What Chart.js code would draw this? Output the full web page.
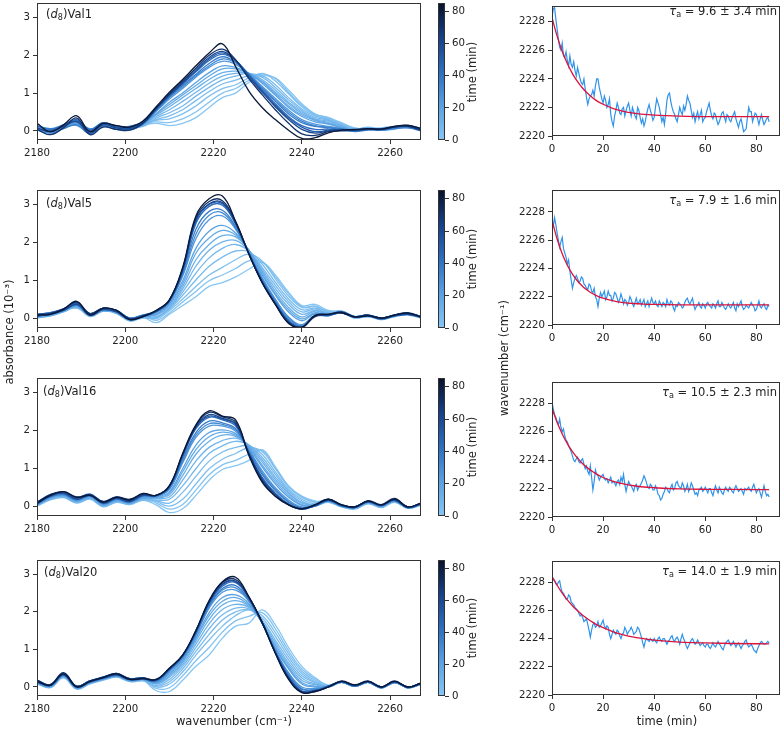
<!DOCTYPE html>
<html><head><meta charset="utf-8">
<script src="https://cdn.jsdelivr.net/npm/chart.js@4.4.0/dist/chart.umd.min.js"></script>
<style>
html,body{margin:0;padding:0;background:#fff;}
#wrap{position:relative;width:784px;height:729px;overflow:hidden;font-family:'DejaVu Sans',sans-serif;color:#222;}
#wrap canvas{position:absolute;}
.lbl{position:absolute;font-size:11.5px;white-space:nowrap;line-height:1;}
.c{transform:translate(-50%,-50%);}
.rot{transform:translate(-50%,-50%) rotate(-90deg);}
.lv{transform:translate(0,-50%);}
.rv{transform:translate(-100%,-50%);}
sub{font-size:70%;vertical-align:-0.25em;line-height:0;}
</style>
</head><body><div id="wrap"></div>
<script>
// ---------- DATA ----------
const SAMPLES = ['Val1','Val5','Val16','Val20'];
const TAU_TEXT = ['9.6 ± 3.4','7.9 ± 1.6','10.5 ± 2.3','14.0 ± 1.9'];
const WN = [2180,2183,2186,2189,2192,2195,2198,2201,2204,2207,2210,2213,2216,2219,2222,2225,2228,2231,2234,2237,2240,2243,2246,2249,2252,2255,2258,2261,2264,2267];
const SPEC_TIMES = [0,2,4,6,8,10,13,16,20,25,30,36,43,51,60,70,82];
const SPEC_X_TICKS = [2180,2200,2220,2240,2260];
const SPEC_Y_TICKS = [0,1,2,3];
const KIN_X_TICKS = [0,20,40,60,80];
const KIN_Y_TICKS = [2220,2222,2224,2226,2228];
const CB_TICKS = [0,20,40,60,80];

const SPEC_VAL1 = [
[0.06,0.00,0.10,0.18,-0.02,0.15,0.06,0.06,0.15,0.20,0.14,0.20,0.35,0.62,0.88,1.00,1.28,1.45,1.40,1.08,0.72,0.45,0.34,0.22,0.06,0.08,0.04,0.08,0.12,0.04],
[0.14,0.06,0.08,0.22,0.06,0.12,0.14,0.02,0.20,0.24,0.22,0.32,0.50,0.76,1.00,1.12,1.34,1.50,1.38,1.02,0.68,0.44,0.36,0.20,0.08,0.04,0.08,0.12,0.08,0.08],
[0.10,0.04,0.14,0.24,0.02,0.20,0.10,0.10,0.18,0.28,0.32,0.45,0.66,0.92,1.12,1.22,1.40,1.52,1.32,0.98,0.64,0.42,0.32,0.18,0.05,0.10,0.06,0.10,0.14,0.06],
[0.02,-0.02,0.16,0.14,-0.04,0.18,0.08,0.08,0.12,0.30,0.40,0.56,0.80,1.04,1.24,1.34,1.46,1.46,1.22,0.88,0.58,0.40,0.30,0.16,0.04,0.08,0.04,0.04,0.14,0.04],
[0.04,-0.04,0.08,0.16,-0.06,0.12,0.04,0.04,0.14,0.34,0.48,0.66,0.92,1.15,1.35,1.45,1.52,1.42,1.15,0.82,0.54,0.36,0.28,0.14,0.02,0.06,0.02,0.06,0.10,0.02],
[0.10,0.02,0.06,0.20,0.02,0.20,0.10,0.02,0.18,0.38,0.56,0.78,1.02,1.26,1.45,1.52,1.52,1.36,1.08,0.76,0.50,0.32,0.26,0.14,0.02,0.04,0.04,0.08,0.12,0.02],
[0.12,0.06,0.16,0.26,0.04,0.22,0.12,0.12,0.22,0.42,0.64,0.88,1.12,1.36,1.54,1.58,1.50,1.32,1.02,0.72,0.46,0.30,0.22,0.12,0.00,0.06,0.02,0.06,0.10,0.04],
[0.02,-0.04,0.14,0.16,0.00,0.14,0.06,0.10,0.16,0.44,0.70,0.95,1.20,1.45,1.64,1.64,1.52,1.30,0.98,0.66,0.42,0.28,0.20,0.10,0.04,0.08,0.02,0.06,0.14,0.06],
[0.06,-0.02,0.10,0.20,-0.02,0.16,0.08,0.06,0.20,0.46,0.76,1.00,1.28,1.54,1.72,1.68,1.52,1.26,0.94,0.62,0.38,0.24,0.18,0.08,0.02,0.06,0.04,0.08,0.12,0.04],
[0.10,0.02,0.14,0.24,0.00,0.18,0.10,0.08,0.22,0.52,0.84,1.12,1.42,1.68,1.84,1.76,1.50,1.18,0.86,0.55,0.30,0.18,0.12,0.06,0.00,0.04,0.03,0.08,0.10,0.02],
[0.12,0.06,0.10,0.28,0.04,0.14,0.14,0.06,0.20,0.54,0.88,1.16,1.46,1.72,1.90,1.80,1.50,1.14,0.82,0.50,0.26,0.14,0.10,0.06,0.02,0.06,0.02,0.10,0.10,0.04],
[0.02,-0.06,0.06,0.16,-0.08,0.12,0.04,0.04,0.18,0.54,0.90,1.20,1.50,1.78,1.96,1.82,1.50,1.12,0.78,0.45,0.22,0.12,0.08,0.04,-0.02,0.02,0.02,0.06,0.08,0.00],
[0.14,0.04,0.16,0.30,0.04,0.22,0.12,0.12,0.24,0.58,0.92,1.24,1.56,1.86,2.02,1.86,1.48,1.08,0.72,0.38,0.14,0.04,0.05,0.02,0.00,0.04,0.04,0.10,0.12,0.04],
[0.06,0.00,0.14,0.26,0.00,0.20,0.10,0.08,0.22,0.58,0.94,1.26,1.58,1.90,2.06,1.86,1.46,1.06,0.68,0.34,0.10,-0.02,0.02,0.04,0.02,0.04,0.06,0.10,0.14,0.04],
[0.08,-0.02,0.12,0.24,-0.06,0.16,0.08,0.06,0.22,0.60,0.96,1.28,1.62,1.94,2.10,1.86,1.42,1.02,0.64,0.30,0.04,-0.06,0.00,0.02,0.02,0.06,0.05,0.12,0.14,0.06],
[0.04,-0.10,0.08,0.34,-0.10,0.10,0.04,0.02,0.20,0.60,0.98,1.32,1.66,2.00,2.16,1.88,1.38,0.96,0.56,0.20,-0.08,-0.12,-0.02,0.00,0.02,0.05,0.04,0.10,0.12,0.02],
[0.20,-0.02,0.16,0.40,-0.02,0.20,0.14,0.10,0.26,0.64,1.02,1.36,1.72,2.06,2.30,1.70,1.05,0.62,0.30,0.02,-0.20,-0.18,-0.05,0.02,0.04,0.06,0.05,0.12,0.15,0.06]
];
const SPEC_VAL5 = [
[0.06,0.10,0.20,0.32,0.08,0.22,0.16,-0.04,0.04,-0.10,0.12,0.35,0.58,0.85,0.95,1.10,1.30,1.48,1.15,0.70,0.35,0.38,0.22,0.18,0.04,0.08,0.00,0.08,0.12,0.04],
[0.08,0.16,0.18,0.34,0.12,0.20,0.18,-0.02,0.08,-0.04,0.16,0.44,0.72,1.00,1.15,1.32,1.52,1.50,1.10,0.66,0.32,0.34,0.20,0.20,0.06,0.06,0.02,0.10,0.10,0.06],
[0.10,0.14,0.24,0.36,0.12,0.26,0.20,0.00,0.08,0.00,0.22,0.52,0.85,1.15,1.35,1.55,1.70,1.52,1.05,0.60,0.30,0.32,0.18,0.20,0.06,0.10,0.02,0.10,0.14,0.06],
[0.02,0.10,0.22,0.28,0.10,0.24,0.14,-0.04,0.02,0.02,0.25,0.62,1.02,1.38,1.62,1.78,1.76,1.44,0.96,0.52,0.24,0.28,0.16,0.18,0.02,0.08,-0.02,0.08,0.12,0.02],
[0.04,0.08,0.18,0.30,0.06,0.20,0.14,-0.06,0.04,0.04,0.28,0.70,1.20,1.60,1.85,1.95,1.78,1.35,0.88,0.45,0.18,0.26,0.14,0.16,0.02,0.06,-0.02,0.06,0.10,0.02],
[0.10,0.12,0.24,0.38,0.10,0.26,0.20,0.00,0.08,0.06,0.30,0.78,1.38,1.80,2.02,2.06,1.80,1.30,0.80,0.38,0.12,0.22,0.12,0.18,0.04,0.08,0.00,0.10,0.14,0.04],
[0.12,0.16,0.26,0.40,0.14,0.28,0.22,0.02,0.10,0.10,0.34,0.85,1.55,1.95,2.18,2.15,1.80,1.25,0.72,0.30,0.05,0.20,0.14,0.20,0.06,0.10,0.02,0.10,0.14,0.06],
[0.04,0.08,0.22,0.32,0.10,0.20,0.18,-0.04,0.06,0.12,0.38,0.92,1.72,2.12,2.32,2.20,1.80,1.20,0.66,0.24,0.00,0.16,0.12,0.16,0.04,0.06,0.00,0.06,0.12,0.04],
[0.06,0.10,0.20,0.34,0.08,0.22,0.16,-0.02,0.06,0.12,0.40,1.00,1.85,2.30,2.45,2.25,1.78,1.15,0.62,0.18,-0.05,0.14,0.10,0.16,0.04,0.08,0.00,0.08,0.12,0.04],
[0.10,0.14,0.24,0.38,0.12,0.26,0.20,0.00,0.08,0.16,0.44,1.12,2.10,2.60,2.70,2.35,1.75,1.08,0.52,0.05,-0.15,0.10,0.10,0.18,0.06,0.10,0.02,0.10,0.14,0.06],
[0.12,0.12,0.26,0.40,0.10,0.24,0.22,0.02,0.10,0.18,0.46,1.16,2.22,2.72,2.78,2.38,1.74,1.05,0.48,0.02,-0.18,0.08,0.08,0.16,0.04,0.10,0.02,0.08,0.14,0.06],
[0.08,0.12,0.22,0.36,0.10,0.24,0.18,-0.02,0.06,0.18,0.46,1.20,2.35,2.82,2.85,2.42,1.72,1.02,0.45,-0.02,-0.20,0.08,0.08,0.16,0.04,0.08,0.00,0.08,0.12,0.04],
[0.12,0.16,0.26,0.42,0.14,0.28,0.22,0.02,0.10,0.20,0.48,1.25,2.50,2.95,2.98,2.48,1.72,0.98,0.42,-0.06,-0.22,0.08,0.10,0.18,0.06,0.10,0.02,0.10,0.14,0.06],
[0.06,0.14,0.24,0.40,0.12,0.26,0.20,0.00,0.06,0.20,0.48,1.28,2.56,3.00,3.02,2.50,1.72,0.98,0.40,-0.06,-0.22,0.08,0.10,0.16,0.04,0.08,0.02,0.08,0.12,0.04],
[0.08,0.12,0.22,0.38,0.10,0.24,0.18,-0.02,0.06,0.20,0.48,1.30,2.60,3.02,3.05,2.52,1.70,0.96,0.40,-0.08,-0.22,0.06,0.10,0.16,0.04,0.08,0.00,0.08,0.12,0.04],
[0.12,0.14,0.26,0.44,0.14,0.28,0.22,0.00,0.08,0.22,0.50,1.32,2.65,3.08,3.10,2.55,1.70,0.96,0.38,-0.10,-0.22,0.10,0.12,0.18,0.06,0.10,0.02,0.10,0.16,0.06],
[0.10,0.12,0.25,0.46,0.10,0.28,0.22,-0.02,0.06,0.22,0.50,1.35,2.70,3.15,3.22,2.55,1.70,0.95,0.38,-0.12,-0.22,0.08,0.12,0.16,0.05,0.08,0.02,0.10,0.15,0.05]
];
const SPEC_VAL16 = [
[0.04,0.20,0.26,0.12,0.22,0.02,0.14,0.08,0.18,0.05,-0.15,-0.05,0.30,0.70,0.98,1.08,1.22,1.50,1.05,0.55,0.28,0.15,0.14,0.00,-0.04,0.10,0.00,0.14,-0.04,0.06],
[0.06,0.22,0.30,0.14,0.24,0.06,0.16,0.12,0.20,0.10,-0.06,0.06,0.44,0.84,1.10,1.22,1.38,1.48,1.02,0.54,0.26,0.14,0.16,0.02,-0.02,0.12,0.02,0.16,-0.02,0.06],
[0.08,0.26,0.32,0.18,0.28,0.08,0.20,0.12,0.24,0.14,0.02,0.20,0.60,1.00,1.25,1.40,1.55,1.45,1.00,0.52,0.25,0.12,0.18,0.04,0.00,0.14,0.04,0.18,0.00,0.08],
[0.04,0.24,0.28,0.16,0.22,0.04,0.16,0.08,0.22,0.16,0.10,0.38,0.80,1.20,1.44,1.56,1.60,1.38,0.92,0.46,0.20,0.08,0.14,0.02,-0.04,0.10,0.00,0.14,-0.02,0.06],
[0.02,0.18,0.24,0.10,0.20,0.00,0.12,0.06,0.18,0.18,0.20,0.55,1.00,1.40,1.60,1.72,1.62,1.30,0.85,0.42,0.16,0.04,0.12,0.00,-0.06,0.08,-0.02,0.12,-0.04,0.04],
[0.08,0.26,0.32,0.16,0.28,0.08,0.18,0.12,0.24,0.22,0.26,0.70,1.20,1.56,1.74,1.80,1.62,1.24,0.78,0.38,0.12,0.06,0.16,0.02,-0.02,0.12,0.02,0.16,-0.02,0.06],
[0.10,0.28,0.34,0.20,0.30,0.10,0.22,0.14,0.26,0.24,0.32,0.82,1.38,1.72,1.88,1.85,1.60,1.18,0.72,0.35,0.10,0.06,0.18,0.04,0.00,0.14,0.04,0.18,0.00,0.08],
[0.04,0.22,0.28,0.14,0.24,0.04,0.16,0.10,0.22,0.24,0.36,0.92,1.50,1.84,1.96,1.88,1.58,1.10,0.66,0.30,0.06,0.04,0.16,0.02,-0.02,0.12,0.02,0.16,-0.02,0.06],
[0.06,0.24,0.30,0.16,0.26,0.06,0.18,0.10,0.24,0.26,0.40,1.00,1.62,1.95,2.02,1.92,1.55,1.05,0.60,0.25,0.04,0.02,0.16,0.02,-0.02,0.12,0.02,0.16,-0.02,0.06],
[0.10,0.30,0.36,0.22,0.32,0.12,0.24,0.16,0.30,0.28,0.46,1.15,1.82,2.12,2.12,1.98,1.50,0.95,0.50,0.18,0.00,0.04,0.18,0.04,0.00,0.14,0.04,0.18,0.00,0.08],
[0.12,0.30,0.34,0.22,0.30,0.10,0.24,0.14,0.28,0.28,0.48,1.20,1.88,2.18,2.16,2.02,1.48,0.90,0.46,0.14,-0.02,0.02,0.18,0.04,0.00,0.14,0.04,0.18,0.00,0.08],
[0.06,0.26,0.32,0.18,0.28,0.08,0.20,0.12,0.28,0.28,0.50,1.25,1.95,2.25,2.20,2.05,1.45,0.85,0.42,0.12,-0.04,0.02,0.16,0.02,-0.02,0.12,0.02,0.16,-0.02,0.06],
[0.12,0.32,0.38,0.24,0.34,0.14,0.26,0.18,0.32,0.30,0.52,1.32,2.05,2.35,2.28,2.12,1.42,0.78,0.36,0.08,-0.06,0.04,0.20,0.04,0.00,0.14,0.04,0.20,0.00,0.08],
[0.08,0.30,0.36,0.22,0.32,0.12,0.24,0.16,0.32,0.30,0.54,1.34,2.08,2.38,2.30,2.16,1.40,0.74,0.34,0.06,-0.06,0.04,0.18,0.04,0.00,0.14,0.04,0.18,-0.02,0.08],
[0.08,0.28,0.36,0.20,0.30,0.10,0.22,0.14,0.30,0.30,0.54,1.36,2.10,2.42,2.32,2.18,1.40,0.72,0.32,0.06,-0.06,0.04,0.18,0.04,-0.02,0.14,0.04,0.18,-0.02,0.08],
[0.12,0.32,0.40,0.26,0.32,0.14,0.26,0.20,0.34,0.30,0.56,1.38,2.12,2.48,2.36,2.22,1.38,0.68,0.28,0.06,-0.05,0.06,0.20,0.06,0.00,0.16,0.06,0.22,0.00,0.10],
[0.10,0.30,0.40,0.25,0.30,0.12,0.25,0.18,0.35,0.30,0.55,1.40,2.15,2.52,2.38,2.28,1.35,0.65,0.28,0.05,-0.05,0.05,0.20,0.05,0.00,0.15,0.05,0.20,0.00,0.10]
];
const SPEC_VAL20 = [
[0.10,0.00,0.26,-0.04,0.10,0.20,0.28,0.16,0.18,-0.10,-0.12,0.18,0.55,0.85,1.30,1.62,1.70,2.05,1.65,1.05,0.55,0.25,0.05,0.12,0.02,0.12,-0.02,0.12,-0.02,0.08],
[0.12,0.02,0.28,-0.02,0.12,0.22,0.30,0.18,0.20,-0.04,-0.02,0.30,0.70,1.05,1.46,1.76,1.88,1.98,1.55,0.96,0.48,0.22,0.04,0.14,0.04,0.14,0.00,0.14,0.00,0.10],
[0.14,0.04,0.30,0.00,0.14,0.24,0.32,0.20,0.22,0.00,0.08,0.40,0.85,1.25,1.62,1.90,2.05,1.90,1.45,0.88,0.42,0.18,0.02,0.14,0.04,0.14,0.00,0.14,0.00,0.10],
[0.10,0.00,0.26,-0.04,0.10,0.20,0.28,0.16,0.18,0.02,0.14,0.48,0.95,1.40,1.78,2.00,2.06,1.84,1.35,0.80,0.36,0.14,0.00,0.12,0.02,0.12,-0.02,0.12,-0.02,0.08],
[0.08,-0.02,0.24,-0.06,0.08,0.18,0.26,0.14,0.16,0.04,0.20,0.55,1.05,1.55,1.92,2.10,2.08,1.78,1.25,0.72,0.30,0.12,0.00,0.12,0.02,0.12,-0.02,0.12,-0.02,0.08],
[0.14,0.04,0.30,0.00,0.14,0.24,0.32,0.20,0.22,0.08,0.26,0.60,1.14,1.68,2.06,2.20,2.12,1.76,1.18,0.64,0.24,0.08,0.02,0.14,0.04,0.14,0.00,0.14,0.00,0.10],
[0.16,0.06,0.34,0.02,0.16,0.26,0.34,0.22,0.24,0.10,0.30,0.65,1.22,1.80,2.18,2.30,2.15,1.72,1.12,0.58,0.18,0.06,0.02,0.14,0.04,0.14,0.00,0.14,0.00,0.10],
[0.10,0.00,0.28,-0.04,0.10,0.20,0.28,0.16,0.20,0.10,0.34,0.68,1.28,1.90,2.28,2.38,2.18,1.72,1.06,0.52,0.12,0.02,0.00,0.12,0.02,0.12,-0.02,0.12,-0.02,0.08],
[0.12,0.02,0.30,-0.02,0.12,0.22,0.30,0.18,0.20,0.12,0.38,0.72,1.32,1.98,2.38,2.45,2.22,1.70,1.02,0.48,0.08,0.00,0.00,0.12,0.02,0.12,-0.02,0.12,-0.02,0.08],
[0.16,0.06,0.34,0.02,0.16,0.26,0.34,0.22,0.24,0.14,0.42,0.76,1.38,2.10,2.52,2.58,2.28,1.70,0.98,0.38,0.00,-0.04,0.02,0.14,0.04,0.14,0.00,0.14,0.00,0.10],
[0.16,0.04,0.34,0.02,0.16,0.26,0.34,0.22,0.24,0.14,0.44,0.78,1.40,2.14,2.58,2.64,2.30,1.70,0.96,0.35,-0.04,-0.06,0.02,0.14,0.04,0.14,0.00,0.14,0.00,0.10],
[0.12,0.02,0.30,-0.02,0.12,0.22,0.30,0.18,0.20,0.16,0.45,0.80,1.42,2.18,2.62,2.70,2.32,1.70,0.95,0.32,-0.06,-0.08,0.00,0.12,0.02,0.12,-0.02,0.12,-0.02,0.08],
[0.18,0.06,0.36,0.02,0.16,0.26,0.36,0.22,0.24,0.18,0.48,0.82,1.46,2.22,2.68,2.78,2.36,1.72,0.92,0.28,-0.10,-0.10,0.02,0.14,0.04,0.14,0.00,0.14,0.00,0.10],
[0.14,0.04,0.34,0.00,0.14,0.24,0.34,0.20,0.24,0.18,0.48,0.84,1.48,2.24,2.72,2.80,2.38,1.72,0.92,0.26,-0.12,-0.10,0.02,0.14,0.04,0.14,0.00,0.14,0.00,0.10],
[0.14,0.04,0.32,0.00,0.14,0.24,0.32,0.20,0.22,0.18,0.48,0.84,1.48,2.26,2.74,2.82,2.38,1.72,0.92,0.24,-0.12,-0.10,0.00,0.14,0.04,0.14,0.00,0.14,0.00,0.10],
[0.18,0.06,0.38,0.02,0.16,0.26,0.36,0.22,0.24,0.20,0.50,0.85,1.50,2.28,2.78,2.86,2.40,1.72,0.90,0.22,-0.14,-0.12,0.00,0.16,0.06,0.16,0.00,0.16,0.00,0.10],
[0.15,0.05,0.35,0.00,0.15,0.25,0.35,0.20,0.22,0.20,0.50,0.85,1.50,2.30,2.80,2.92,2.40,1.72,0.90,0.20,-0.15,-0.12,0.00,0.15,0.05,0.15,0.00,0.15,0.00,0.10]
];

const T_MIN = [0,1,2,3,4,5,6,7,8,9,10,11,12,13,14,15,16,17,18,19,20,21,22,23,24,25,26,27,28,29,30,31,32,33,34,35,36,37,38,39,40,41,42,43,44,45,46,47,48,49,50,51,52,53,54,55,56,57,58,59,60,61,62,63,64,65,66,67,68,69,70,71,72,73,74,75,76,77,78,79,80,81,82,83,84,85];
const T_HALF = [0.5,1.5,2.5,3.5,4.5,5.5,6.5,7.5,8.5,9.5,10.5,11.5,12.5,13.5,14.5,15.5,16.5,17.5,18.5,19.5,20.5,21.5,22.5,23.5,24.5,25.5,26.5,27.5,28.5,29.5,30.5,31.5,32.5,33.5,34.5,35.5,36.5,37.5,38.5,39.5,40.5,41.5,42.5,43.5,44.5,45.5,46.5,47.5,48.5,49.5,50.5,51.5,52.5,53.5,54.5,55.5,56.5,57.5,58.5,59.5,60.5,61.5,62.5,63.5,64.5,65.5,66.5,67.5,68.5,69.5,70.5,71.5,72.5,73.5,74.5,75.5,76.5,77.5,78.5,79.5,80.5,81.5,82.5,83.5,84.5];

const SHIFT_VAL1 = [
2228.3,2229.0,2227.5,2226.2,2226.5,2225.5,2225.3,2225.6,2224.8,2224.6,
2224.8,2224.0,2223.6,2223.3,2222.2,2222.8,2223.2,2223.5,2224.0,2223.0,
2222.3,2222.5,2222.2,2221.5,2220.7,2221.8,2222.0,2221.5,2222.0,2221.8,
2222.3,2221.4,2221.7,2221.2,2221.8,2220.9,2220.7,2221.5,2222.2,2221.5,
2221.3,2222.6,2222.0,2221.0,2220.8,2222.5,2223.0,2222.0,2221.5,2221.0,
2222.0,2221.5,2221.8,2222.8,2222.3,2221.3,2221.0,2221.7,2221.5,2221.0,
2221.3,2222.0,2221.8,2221.2,2221.5,2220.8,2221.3,2221.7,2221.0,2221.4,
2221.0,2221.5,2221.2,2220.6,2221.2,2220.3,2220.5,2222.0,2221.7,2221.3,
2221.5,2220.8,2221.5,2220.8,2221.2,2221.0];
const SHIFT_VAL1_HALF = [
2228.9,2228.2,2226.8,2226.0,2225.6,2225.9,2224.9,2225.0,2225.2,2224.2,
2224.4,2223.7,2224.0,2222.7,2222.6,2222.9,2222.8,2224.0,2223.4,2222.6,
2222.8,2222.0,2222.6,2221.0,2221.4,2222.3,2221.6,2221.9,2221.4,2222.1,
2221.8,2222.0,2221.4,2222.0,2221.3,2221.2,2221.0,2221.9,2221.8,2221.1,
2222.0,2222.3,2221.5,2221.3,2221.6,2222.9,2222.4,2221.7,2221.2,2221.5,
2221.7,2222.1,2222.2,2222.5,2221.8,2221.6,2221.4,2221.2,2221.8,2221.2,
2221.7,2222.3,2221.4,2221.6,2221.1,2221.0,2221.6,2221.3,2221.5,2221.1,
2221.3,2221.7,2220.9,2221.0,2220.8,2220.4,2221.3,2221.7,2221.0,2221.6,
2221.2,2221.2,2221.1,2221.0,2221.3];
const SHIFT_VAL5 = [
2227.2,2227.6,2226.5,2225.5,2226.2,2225.1,2224.3,2223.8,2222.6,2223.3,
2223.3,2223.1,2223.3,2222.8,2222.5,2222.8,2222.3,2222.0,2221.3,2222.3,
2222.2,2221.8,2222.4,2222.1,2221.9,2222.2,2221.6,2222.2,2221.5,2221.7,
2221.6,2221.8,2221.3,2221.9,2221.6,2221.4,2221.8,2221.5,2221.3,2221.9,
2221.5,2221.4,2221.7,2221.3,2221.5,2221.8,2221.4,2221.6,2221.0,2221.3,
2221.5,2221.2,2221.6,2221.9,2221.5,2221.9,2221.1,2221.4,2221.3,2221.5,
2221.2,2221.6,2221.3,2221.5,2221.2,2221.7,2221.3,2221.4,2221.1,2221.5,
2221.2,2221.6,2221.0,2221.3,2221.7,2221.1,2221.4,2221.2,2221.6,2221.3,
2221.1,2221.7,2221.2,2221.5,2221.1,2221.3];
const SHIFT_VAL5_HALF = [
2227.0,2227.1,2226.0,2225.9,2225.4,2224.8,2224.6,2223.2,2223.0,2223.5,
2223.0,2223.4,2222.9,2222.6,2222.9,2222.4,2222.6,2221.8,2221.9,2222.0,
2222.4,2222.0,2222.1,2221.7,2222.3,2221.9,2221.8,2221.9,2221.8,2221.4,
2222.0,2221.5,2221.6,2221.5,2221.8,2221.6,2221.3,2221.7,2221.6,2221.6,
2221.7,2221.3,2221.5,2221.6,2221.3,2221.5,2221.7,2221.2,2221.4,2221.6,
2221.4,2221.3,2221.8,2221.6,2221.7,2221.4,2221.3,2221.6,2221.2,2221.4,
2221.5,2221.4,2221.2,2221.4,2221.5,2221.3,2221.6,2221.2,2221.3,2221.3,
2221.4,2221.2,2221.5,2221.5,2221.3,2221.2,2221.3,2221.4,2221.4,2221.0,
2221.4,2221.3,2221.4,2221.2,2221.4];
const SHIFT_VAL16 = [
2228.1,2227.2,2226.7,2226.9,2226.0,2225.7,2225.3,2224.8,2224.3,2223.9,
2224.2,2223.8,2224.1,2223.4,2223.2,2223.6,2221.9,2223.3,2222.9,2222.8,
2223.0,2222.6,2222.4,2222.8,2222.5,2222.2,2222.6,2222.8,2223.0,2221.8,
2222.5,2222.2,2221.8,2222.3,2222.1,2222.4,2222.9,2222.4,2222.0,2222.2,
2221.9,2222.0,2221.5,2221.3,2221.8,2222.0,2221.7,2222.3,2222.0,2222.5,
2222.1,2222.4,2221.8,2222.3,2222.0,2222.2,2221.6,2221.5,2222.0,2221.8,
2222.1,2221.7,2222.0,2221.5,2222.2,2221.7,2221.9,2221.6,2222.1,2221.8,
2222.0,2221.7,2222.2,2221.8,2222.0,2221.6,2221.9,2222.1,2221.8,2222.3,
2221.7,2222.0,2221.4,2222.2,2221.5,2221.4];
const SHIFT_VAL16_HALF = [
2227.6,2227.0,2226.5,2226.3,2226.2,2225.4,2225.0,2224.6,2224.0,2224.1,
2223.9,2224.0,2223.7,2223.6,2223.0,2222.8,2222.5,2223.0,2222.6,2222.9,
2222.7,2222.7,2222.6,2222.4,2222.4,2222.5,2222.3,2222.5,2222.3,2222.2,
2222.3,2222.0,2222.2,2221.9,2222.2,2222.6,2222.7,2222.1,2222.3,2221.9,
2222.2,2221.6,2221.2,2221.6,2222.1,2221.8,2222.1,2221.9,2222.4,2222.2,
2222.0,2222.2,2222.0,2221.8,2222.4,2221.9,2221.7,2221.9,2222.1,2221.9,
2221.9,2222.0,2221.7,2221.9,2221.9,2222.1,2221.7,2221.9,2221.9,2222.1,
2221.8,2222.0,2222.0,2221.9,2221.8,2222.0,2222.0,2221.9,2222.1,2222.0,
2221.9,2221.7,2221.8,2221.8,2221.6];
const SHIFT_VAL20 = [
2228.0,2228.1,2227.8,2228.1,2227.3,2227.0,2226.8,2227.0,2226.5,2226.2,
2226.0,2225.6,2225.5,2225.3,2225.0,2224.1,2225.0,2224.8,2225.2,2224.9,
2225.3,2224.7,2224.8,2224.0,2224.6,2224.3,2224.5,2224.0,2224.4,2224.6,
2224.5,2224.8,2224.3,2224.5,2224.7,2224.1,2223.4,2224.0,2223.8,2223.9,
2224.0,2223.7,2224.1,2223.8,2224.0,2223.6,2223.9,2224.2,2223.8,2224.1,
2223.6,2224.3,2223.8,2223.3,2223.7,2224.0,2223.6,2223.9,2223.5,2223.7,
2223.4,2223.6,2223.3,2223.7,2223.4,2223.8,2223.5,2223.2,2223.7,2223.9,
2223.5,2223.8,2223.4,2223.7,2223.3,2223.6,2223.9,2223.4,2223.6,2223.2,
2223.0,2223.5,2223.8,2223.6,2223.7,2223.7];
const SHIFT_VAL20_HALF = [
2228.2,2227.9,2228.0,2227.6,2227.2,2226.8,2227.1,2226.6,2226.4,2226.1,
2225.8,2225.7,2225.2,2225.4,2224.6,2224.6,2225.1,2224.9,2224.8,2225.1,
2224.9,2224.9,2224.3,2224.3,2224.4,2224.6,2224.2,2224.3,2224.8,2224.3,
2224.6,2224.6,2224.4,2224.8,2224.4,2223.7,2223.8,2223.9,2224.0,2223.8,
2223.8,2224.0,2223.9,2224.0,2223.8,2223.8,2224.1,2223.9,2224.0,2223.9,
2224.0,2224.0,2223.5,2223.5,2223.9,2223.8,2223.7,2223.7,2223.6,2223.5,
2223.6,2223.4,2223.5,2223.5,2223.6,2223.6,2223.3,2223.5,2223.8,2223.7,
2223.6,2223.6,2223.6,2223.5,2223.5,2223.8,2223.6,2223.5,2223.4,2223.1,
2223.3,2223.7,2223.7,2223.6,2223.8];

const FIT_T = [0,2,4,6,8,10,12,14,16,18,20,24,28,32,36,40,50,60,70,85];
const FIT_VAL1 = [2228.30,2226.99,2225.93,2225.07,2224.37,2223.80,2223.34,2222.97,2222.66,2222.41,2222.22,2221.92,2221.73,2221.60,2221.51,2221.46,2221.39,2221.36,2221.36,2221.35];
const FIT_VAL5 = [2227.42,2226.08,2225.04,2224.23,2223.60,2223.11,2222.73,2222.44,2222.21,2222.03,2221.90,2221.71,2221.59,2221.52,2221.48,2221.46,2221.43,2221.42,2221.42,2221.42];
const FIT_VAL16 = [2227.65,2226.66,2225.84,2225.16,2224.60,2224.14,2223.75,2223.44,2223.18,2222.96,2222.78,2222.51,2222.33,2222.20,2222.11,2222.06,2221.98,2221.95,2221.94,2221.93];
const FIT_VAL20 = [2228.42,2227.78,2227.22,2226.74,2226.33,2225.97,2225.66,2225.39,2225.15,2224.94,2224.77,2224.48,2224.27,2224.11,2223.99,2223.89,2223.75,2223.69,2223.65,2223.63];

// ---------- LAYOUT / STYLE ----------
const SPECTRA = [SPEC_VAL1, SPEC_VAL5, SPEC_VAL16, SPEC_VAL20];
const SHIFTS = [SHIFT_VAL1, SHIFT_VAL5, SHIFT_VAL16, SHIFT_VAL20];
const SHIFTS_HALF = [SHIFT_VAL1_HALF, SHIFT_VAL5_HALF, SHIFT_VAL16_HALF, SHIFT_VAL20_HALF];
const FITS = [FIT_VAL1, FIT_VAL5, FIT_VAL16, FIT_VAL20];
const CB_MAX = 85.4;
const LEFT_ROWS = [[3,140],[190,328],[378,516],[560,696]];
const RIGHT_ROWS = [[6,136,2229.1],[190,325,2229.55],[382,517,2229.5],[561,695,2229.5]];
const NAME_POS = [[46,15],[46,204],[43,392],[44,573]];
const TAU_POS = [12,201,393,572];
const CMAP_STOPS = [[0,[135,198,243]],[0.25,[88,160,226]],[0.5,[44,110,192]],[0.75,[22,64,134]],[1,[8,17,42]]];
function cmap(f){
  f = Math.max(0, Math.min(1, f));
  for (let i=1;i<CMAP_STOPS.length;i++){
    const [f1,c1]=CMAP_STOPS[i], [f0,c0]=CMAP_STOPS[i-1];
    if (f<=f1){ const u=(f-f0)/(f1-f0); return 'rgb('+c0.map((v,k)=>Math.round(v+(c1[k]-v)*u)).join(',')+')'; }
  }
  return 'rgb(8,17,42)';
}
const FONT = {family:"'DejaVu Sans', sans-serif", size:10.2};
const wrap = document.getElementById('wrap');
function mkCanvas(left, top, w, h){
  const c=document.createElement('canvas'); c.width=w; c.height=h;
  c.style.left=left+'px'; c.style.top=top+'px'; c.style.width=w+'px'; c.style.height=h+'px';
  wrap.appendChild(c); return c;
}
function mkLabel(html, x, y, cls){
  const d=document.createElement('div'); d.className='lbl '+cls; d.innerHTML=html;
  d.style.left=x+'px'; d.style.top=y+'px'; wrap.appendChild(d); return d;
}
function axis(ticksArr, min, max, fitKey, fitVal, pos){
  return {type:'linear', position:pos, min:min, max:max,
    afterBuildTicks: s => { s.ticks = ticksArr.map(v=>({value:v})); },
    afterFit: s => { s[fitKey] = fitVal; },
    grid:{display:true, drawOnChartArea:false, drawTicks:true, tickLength:4, color:'#333', lineWidth:1},
    border:{display:false},
    ticks:{color:'#222', font:FONT, padding:3, maxRotation:0, minRotation:0, autoSkip:false, callback:v=>String(v)}
  };
}
const framePlugin = {id:'frame', afterDraw(c){
  const a=c.chartArea, ctx=c.ctx; ctx.save(); ctx.strokeStyle='#333'; ctx.lineWidth=1;
  ctx.strokeRect(Math.round(a.left)+0.5, Math.round(a.top)+0.5, Math.round(a.right-a.left)-1, Math.round(a.bottom-a.top)-1);
  ctx.restore();
}};
const cbarPlugin = {id:'cbar', beforeDraw(c){
  const a=c.chartArea, ctx=c.ctx;
  const g=ctx.createLinearGradient(0,a.bottom,0,a.top);
  for (let i=0;i<=20;i++){ g.addColorStop(i/20, cmap(i/20)); }
  ctx.save(); ctx.fillStyle=g; ctx.fillRect(a.left,a.top,a.right-a.left,a.bottom-a.top); ctx.restore();
}};
const base = {responsive:false, animation:false, events:[], plugins:{legend:{display:false}, tooltip:{enabled:false}}};
const PAD=12, XH=22;

// left spectra panels + colorbars (plotted in time order: later spectra on top)
LEFT_ROWS.forEach(([pt,pb],i)=>{
  const h=pb-pt;
  const N=SPEC_TIMES.length;
  const c=mkCanvas(0, pt-PAD, 431, h+PAD+XH);
  new Chart(c,{type:'line',
    data:{datasets: SPECTRA[i].map((ys,j)=>({data: WN.map((x,k)=>({x:x,y:ys[k]})), borderColor: cmap(SPEC_TIMES[j]/CB_MAX),
      borderWidth:1.3, pointRadius:0, tension:0.4, fill:false, order:N-j}))},
    options:Object.assign({}, base, {layout:{padding:{top:PAD,right:10,left:0,bottom:0}},
      scales:{x:axis(SPEC_X_TICKS,2180,2267,'height',XH,'bottom'), y:axis(SPEC_Y_TICKS,-0.24,3.38,'width',37,'left')}}),
    plugins:[framePlugin]});
  const cb=mkCanvas(438, pt-PAD, 47, h+2*PAD);
  new Chart(cb,{type:'scatter', data:{datasets:[]},
    options:Object.assign({}, base, {layout:{padding:{top:PAD,right:0,left:0,bottom:PAD}},
      scales:{x:{display:false}, y:axis(CB_TICKS,0,CB_MAX,'width',40,'right')}}),
    plugins:[cbarPlugin, framePlugin]});
  mkLabel('time (min)', 473, (pt+pb)/2, 'rot');
  mkLabel('(<i>d</i><sub>8</sub>)'+SAMPLES[i], NAME_POS[i][0], NAME_POS[i][1], 'lv');
});

// right kinetics panels
RIGHT_ROWS.forEach(([pt,pb,ymax],i)=>{
  const h=pb-pt;
  const c=mkCanvas(515, pt-PAD, 269, h+PAD+XH);
  const pts = T_MIN.map((x,k)=>({x:x,y:SHIFTS[i][k]})).concat(T_HALF.map((x,k)=>({x:x,y:SHIFTS_HALF[i][k]}))).sort((a,b)=>a.x-b.x);
  new Chart(c,{type:'line',
    data:{datasets:[
      {data: FIT_T.map((x,k)=>({x:x,y:FITS[i][k]})), borderColor:'#dc143c', borderWidth:1.3, pointRadius:0, cubicInterpolationMode:'monotone', fill:false, order:0},
      {data: pts, borderColor:'#2f93ea', borderWidth:1.2, pointRadius:0, tension:0, fill:false, order:1}
    ]},
    options:Object.assign({}, base, {layout:{padding:{top:PAD,right:4,left:0,bottom:0}},
      scales:{x:axis(KIN_X_TICKS,0,89.25,'height',XH,'bottom'), y:axis(KIN_Y_TICKS,2220,ymax,'width',37,'left')}}),
    plugins:[framePlugin]});
  mkLabel('<i>τ</i><sub>a</sub> = '+TAU_TEXT[i]+' min', 777, TAU_POS[i], 'rv');
});

mkLabel('absorbance (10⁻³)', 10, 332, 'rot');
mkLabel('wavenumber (cm⁻¹)', 505, 358, 'rot');
mkLabel('wavenumber (cm⁻¹)', 234, 722, 'c');
mkLabel('time (min)', 667, 722, 'c');
</script>
</body></html>
